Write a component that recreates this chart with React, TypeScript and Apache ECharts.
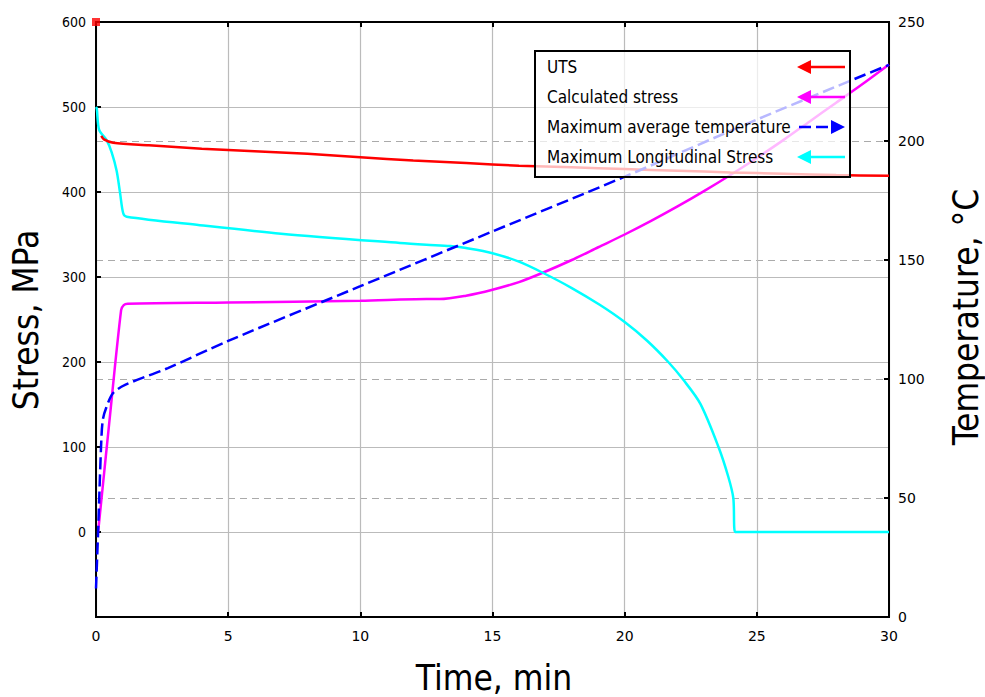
import React, { useEffect, useRef } from "react";
import * as echarts from "echarts";

// Time (min) vs value pairs
const utsData: number[][] = [
  [0.2, 466], [0.3, 462], [0.65, 458], [2, 455], [4, 451], [6, 448], [8, 445], [10, 441],
  [12, 437], [14, 434], [16, 431], [18, 429], [20, 427], [22, 425], [24, 423], [26, 421.5],
  [28, 420], [30, 419],
];
const utsMarker: number[][] = [[0, 600]];

const calcStressData: number[][] = [
  [0.08, 0], [0.5, 128], [0.95, 261], [1.05, 267], [1.2, 268.5], [5, 270], [10, 272],
  [12.5, 274], [13, 274], [14, 278], [15, 285], [16, 294], [16.9, 305], [18, 320], [19, 335],
  [20, 350], [21, 366], [22, 383], [23, 401], [24, 420], [25, 440], [26, 461], [27, 483],
  [28, 505], [29, 527], [30, 550],
];

const maxTempData: number[][] = [
  [0, 12], [0.08, 36], [0.2, 74], [0.26, 83], [0.39, 88], [0.64, 94], [1.1, 97.5],
  [2.72, 104.6], [5, 116], [10, 139], [15, 162], [20, 185], [25, 209], [30, 232],
];

const longStressData: number[][] = [
  [0, 500], [0.03, 498], [0.12, 473], [0.4, 461], [0.59, 447], [0.78, 425], [0.91, 399],
  [1.03, 375], [1.16, 371], [3.93, 361], [7, 351], [11.5, 340], [12.5, 338], [13.4, 336.5],
  [14, 334], [15, 328], [16, 318], [16.9, 305], [18, 287], [19.07, 267], [20, 247],
  [20.85, 225], [21.65, 200], [22.22, 179], [22.86, 151], [23.55, 100], [23.92, 65],
  [24.11, 40], [24.18, 0], [30, 0],
];

const legendNames = [
  "UTS",
  "Calculated stress",
  "Maximum average temperature",
  "Maximum Longitudinal Stress",
];
const legendColors = ["#ff0000", "#ff00ff", "#0000ff", "#00ffff"];

const xTitle = "Time, min";
const yLeftTitle = "Stress, MPa";
const yRightTitle = "Temperature, \u00b0C";

const COND = "'DejaVu Sans Condensed', 'DejaVu Sans', sans-serif";
const SANS = "'DejaVu Sans', Verdana, sans-serif";

export default function App() {
  const ref = useRef<HTMLDivElement>(null);
  useEffect(() => {
    if (!ref.current) return;
    const chart = echarts.init(ref.current, null, { renderer: "svg" });

    const legendItems: any[] = [];
    const rowY = [67, 97, 127, 157];
    legendNames.forEach((name, i) => {
      const y = rowY[i];
      legendItems.push({
        type: "text",
        x: 547,
        y,
        z: 102,
        style: {
          text: name,
          font: `17px ${COND}`,
          fill: "#000",
          textVerticalAlign: "middle",
          textAlign: "left",
        },
      });
      if (i === 2) {
        legendItems.push({
          type: "line",
          z: 102,
          shape: { x1: 799, y1: y, x2: 833, y2: y },
          style: { stroke: legendColors[i], lineWidth: 2.5, lineDash: [12, 5] },
        });
        legendItems.push({
          type: "polygon",
          z: 102,
          shape: { points: [[845, y], [831, y - 7], [831, y + 7]] },
          style: { fill: legendColors[i] },
        });
      } else {
        legendItems.push({
          type: "line",
          z: 102,
          shape: { x1: 810, y1: y, x2: 845, y2: y },
          style: { stroke: legendColors[i], lineWidth: 2.5 },
        });
        legendItems.push({
          type: "polygon",
          z: 102,
          shape: { points: [[797, y], [811, y - 7], [811, y + 7]] },
          style: { fill: legendColors[i] },
        });
      }
    });

    const lineCommon = { showSymbol: false, smooth: 0.3 };

    const option: any = {
      animation: false,
      grid: {
        left: 96,
        right: 96,
        top: 22,
        bottom: 80,
        show: true,
        borderColor: "#000",
        borderWidth: 2,
        backgroundColor: "#fff",
      },
      xAxis: [
        {
          type: "value",
          min: 0,
          max: 30,
          interval: 5,
          axisLine: { show: true, onZero: false, lineStyle: { color: "#000", width: 2 } },
          axisTick: { show: true, inside: true, length: 5, lineStyle: { color: "#000", width: 2 } },
          axisLabel: { color: "#000", fontFamily: SANS, fontSize: 14, margin: 12 },
          splitLine: { show: true, lineStyle: { color: "#bbbbbb", width: 1.2 } },
        },
        {
          type: "value",
          position: "top",
          min: 0,
          max: 30,
          interval: 5,
          axisLine: { show: true, onZero: false, lineStyle: { color: "#000", width: 2 } },
          axisTick: { show: true, inside: true, length: 5, lineStyle: { color: "#000", width: 2 } },
          axisLabel: { show: false },
          splitLine: { show: false },
        },
      ],
      yAxis: [
        {
          type: "value",
          min: -100,
          max: 600,
          interval: 100,
          position: "left",
          axisLine: { show: true, onZero: false, lineStyle: { color: "#000", width: 2 } },
          axisTick: { show: true, inside: true, length: 5, lineStyle: { color: "#000", width: 2 } },
          axisLabel: {
            color: "#000",
            fontFamily: COND,
            fontSize: 14,
            margin: 10,
            formatter: (v: number) => (v < 0 ? "" : String(v)),
          },
          splitLine: { show: true, lineStyle: { color: "#bbbbbb", width: 1.2 } },
        },
        {
          type: "value",
          min: 0,
          max: 250,
          interval: 50,
          position: "right",
          axisLine: { show: true, onZero: false, lineStyle: { color: "#000", width: 2 } },
          axisTick: { show: true, inside: true, length: 5, lineStyle: { color: "#000", width: 2 } },
          axisLabel: { color: "#000", fontFamily: SANS, fontSize: 14, margin: 9 },
          splitLine: { show: true, lineStyle: { color: "#aaaaaa", width: 1.2, type: [7, 5] } },
        },
      ],
      series: [
        {
          ...lineCommon,
          name: legendNames[1],
          type: "line",
          yAxisIndex: 0,
          data: calcStressData,
          lineStyle: { color: legendColors[1], width: 2.5 },
          z: 3,
        },
        {
          ...lineCommon,
          name: legendNames[3],
          type: "line",
          yAxisIndex: 0,
          data: longStressData,
          lineStyle: { color: legendColors[3], width: 2.5 },
          z: 3,
        },
        {
          ...lineCommon,
          name: legendNames[0],
          type: "line",
          yAxisIndex: 0,
          data: utsData,
          lineStyle: { color: legendColors[0], width: 2.5 },
          z: 4,
        },
        {
          ...lineCommon,
          name: legendNames[2],
          type: "line",
          yAxisIndex: 1,
          data: maxTempData,
          lineStyle: { color: legendColors[2], width: 2.5, type: [12, 5] },
          z: 4,
        },
        {
          name: "UTS marker",
          type: "scatter",
          yAxisIndex: 0,
          data: utsMarker,
          symbol: "rect",
          symbolSize: 8,
          clip: false,
          itemStyle: { color: legendColors[0] },
          z: 6,
        },
      ],
      graphic: [
        {
          type: "text",
          x: 26,
          y: 320,
          rotation: Math.PI / 2,
          style: {
            text: yLeftTitle,
            font: `35px ${COND}`,
            fill: "#000",
            textAlign: "center",
            textVerticalAlign: "middle",
          },
        },
        {
          type: "text",
          x: 966,
          y: 317,
          rotation: Math.PI / 2,
          style: {
            text: yRightTitle,
            font: `35px ${COND}`,
            fill: "#000",
            textAlign: "center",
            textVerticalAlign: "middle",
          },
        },
        {
          type: "text",
          x: 494,
          y: 678,
          style: {
            text: xTitle,
            font: `35px ${COND}`,
            fill: "#000",
            textAlign: "center",
            textVerticalAlign: "middle",
          },
        },
        {
          type: "rect",
          z: 100,
          shape: { x: 535, y: 51, width: 315, height: 126 },
          style: { fill: "rgba(255,255,255,0.72)", stroke: "#000", lineWidth: 2 },
        },
        ...legendItems,
      ],
    };
    chart.setOption(option);
    return () => chart.dispose();
  }, []);

  return (
    <div
      ref={ref}
      style={{ position: "absolute", left: 0, top: 0, width: 985, height: 697, background: "#fff" }}
    />
  );
}
